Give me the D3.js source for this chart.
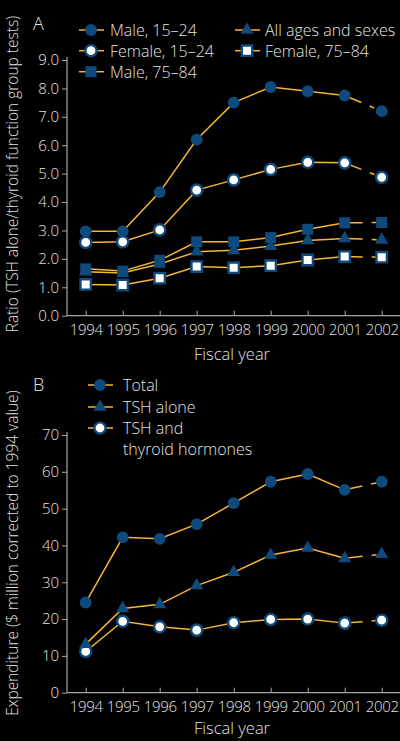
<!DOCTYPE html>
<html>
<head>
<meta charset="utf-8">
<script src="https://cdn.jsdelivr.net/npm/d3@7"></script>
<style>
  html, body { margin: 0; padding: 0; background: #000; }
  svg { display: block; }
  text { font-family: "Open Sans", sans-serif; font-weight: 300; fill: #e2e2e2; }
</style>
</head>
<body>
<svg id="chart" width="400" height="741"></svg>
<script>
// ---- data ----
const years = [1994, 1995, 1996, 1997, 1998, 1999, 2000, 2001, 2002];

// panel A: ratio TSH alone / thyroid function group tests
const male1524   = [2.97, 2.97, 4.35, 6.2, 7.5, 8.05, 7.9, 7.75, 7.2];
const female1524 = [2.58, 2.6, 3.02, 4.42, 4.78, 5.15, 5.4, 5.38, 4.87];
const male7584   = [1.65, 1.57, 1.95, 2.6, 2.6, 2.75, 3.04, 3.27, 3.28];
const allAges    = [1.55, 1.5, 1.82, 2.25, 2.3, 2.45, 2.65, 2.72, 2.67];
const female7584 = [1.1, 1.08, 1.32, 1.73, 1.69, 1.76, 1.96, 2.08, 2.06];
const ticksA = [0, 1, 2, 3, 4, 5, 6, 7, 8, 9];

// panel B: expenditure ($ million corrected to 1994 value)
const total      = [24.5, 42.2, 41.8, 45.8, 51.5, 57.3, 59.4, 55.1, 57.3];
const tshAlone   = [13.2, 22.9, 24.0, 29.1, 32.7, 37.4, 39.3, 36.5, 37.6];
const tshThyroid = [11.2, 19.4, 17.9, 17.0, 19.0, 19.9, 20.0, 18.9, 19.7];
const ticksB = [0, 10, 20, 30, 40, 50, 60, 70];

const blue = "#0e4a7b";
const orange = "#f7b536";
const axisColor = "#a8a8a8";

const svg = d3.select("#chart");

function marker(g, type, x, y) {
  const open = type === "openCircle" || type === "openSquare";
  let shape = d3.symbolCircle, size = 110;
  if (type === "square" || type === "openSquare") { shape = d3.symbolSquare; size = 121; }
  if (type === "triangle") { shape = d3.symbolTriangle; size = 75; }
  g.append("path")
    .attr("transform", `translate(${x},${y})`)
    .attr("d", d3.symbol().type(shape).size(open ? size - 12 : size)())
    .attr("fill", open ? "#fff" : blue)
    .attr("stroke", open ? blue : "none")
    .attr("stroke-width", open ? 2.4 : 0);
}

function drawPanel(p) {
  const g = svg.append("g");
  const x = d3.scaleLinear().domain([1994, 2002]).range([85.7, 381.7]);
  const y = d3.scaleLinear().domain([0, p.max]).range([p.bottom, p.top]);

  // y axis
  const ya = g.append("g")
    .attr("transform", "translate(67,0)")
    .call(d3.axisLeft(y).tickValues(p.ticks).tickFormat(p.fmt).tickSize(5).tickPadding(3));
  ya.select(".domain").remove();
  ya.selectAll(".tick line").attr("stroke", axisColor);
  ya.selectAll(".tick text").attr("fill", "#e2e2e2").style("font-size", "15px")
    .style("font-family", "'Open Sans', sans-serif");
  g.append("line").attr("x1", 67).attr("x2", 67)
    .attr("y1", p.top - 3).attr("y2", p.bottom)
    .attr("stroke", axisColor).attr("stroke-width", 1.2);

  // x axis
  const xa = g.append("g")
    .attr("transform", `translate(0,${p.bottom})`)
    .call(d3.axisBottom(x).tickValues(years).tickFormat(d3.format("d")).tickSize(-5).tickPadding(9));
  xa.select(".domain").remove();
  xa.selectAll(".tick line").attr("stroke", axisColor);
  xa.selectAll(".tick text").attr("fill", "#e2e2e2").style("font-size", "15px")
    .style("font-family", "'Open Sans', sans-serif").style("letter-spacing", "-0.3px");
  g.append("line").attr("x1", 67).attr("x2", 400)
    .attr("y1", p.bottom).attr("y2", p.bottom)
    .attr("stroke", axisColor).attr("stroke-width", 1.2);

  g.append("text").attr("x", 232).attr("y", p.bottom + p.fyDy)
    .attr("text-anchor", "middle").style("font-size", "16.5px").text("Fiscal year");

  g.append("text")
    .attr("transform", `translate(18,${p.titleY}) rotate(-90)`)
    .attr("text-anchor", "middle").style("font-size", "15.5px").text(p.title);

  g.append("text").attr("x", 33).attr("y", p.letterY)
    .style("font-size", "18px").text(p.letter);

  // series lines
  const line = d3.line().x((d, i) => x(years[i])).y(d => y(d));
  p.series.forEach(s => {
    g.append("path").datum(s.values.slice(0, 8))
      .attr("d", line).attr("fill", "none")
      .attr("stroke", orange).attr("stroke-width", 1.5);
    g.append("line")
      .attr("x1", x(2001)).attr("y1", y(s.values[7]))
      .attr("x2", x(2002)).attr("y2", y(s.values[8]))
      .attr("stroke", orange).attr("stroke-width", 1.5)
      .attr("stroke-dasharray", "18,9,5,20");
  });
  p.series.forEach(s => {
    s.values.forEach((v, i) => marker(g, s.type, x(years[i]), y(v)));
  });

  // legend
  p.series.forEach(s => {
    const lg = g.append("g");
    lg.append("line").attr("x1", s.lx - 12).attr("x2", s.lx + 13)
      .attr("y1", s.ly).attr("y2", s.ly)
      .attr("stroke", orange).attr("stroke-width", 1.5);
    marker(lg, s.type, s.lx, s.ly);
    s.label.forEach((t, k) => {
      lg.append("text").attr("x", s.lx + s.tdx).attr("y", s.ly + 6 + k * 20.5)
        .style("font-size", "16px").text(t);
    });
  });
}

drawPanel({
  max: 9, top: 60, bottom: 315.7, ticks: ticksA, fmt: d3.format(".1f"),
  title: "Ratio (TSH alone/thyroid function group tests)", titleY: 174,
  letter: "A", letterY: 30, fyDy: 44,
  series: [
    { values: female7584, type: "openSquare", lx: 247, ly: 50.7, tdx: 18, label: ["Female, 75–84"] },
    { values: allAges, type: "triangle", lx: 247, ly: 30, tdx: 18, label: ["All ages and sexes"] },
    { values: male7584, type: "square", lx: 91, ly: 71.7, tdx: 19, label: ["Male, 75–84"] },
    { values: female1524, type: "openCircle", lx: 91, ly: 50.7, tdx: 19, label: ["Female, 15–24"] },
    { values: male1524, type: "circle", lx: 91, ly: 30, tdx: 19, label: ["Male, 15–24"] }
  ]
});

drawPanel({
  max: 70, top: 435, bottom: 692.7, ticks: ticksB, fmt: d3.format("d"),
  title: "Expenditure ($ million corrected to 1994 value)", titleY: 553,
  letter: "B", letterY: 391, fyDy: 41,
  series: [
    { values: tshThyroid, type: "openCircle", lx: 100, ly: 428, tdx: 23, label: ["TSH and", "thyroid hormones"] },
    { values: tshAlone, type: "triangle", lx: 100, ly: 407, tdx: 23, label: ["TSH alone"] },
    { values: total, type: "circle", lx: 100, ly: 385, tdx: 23, label: ["Total"] }
  ]
});
</script>
</body>
</html>
